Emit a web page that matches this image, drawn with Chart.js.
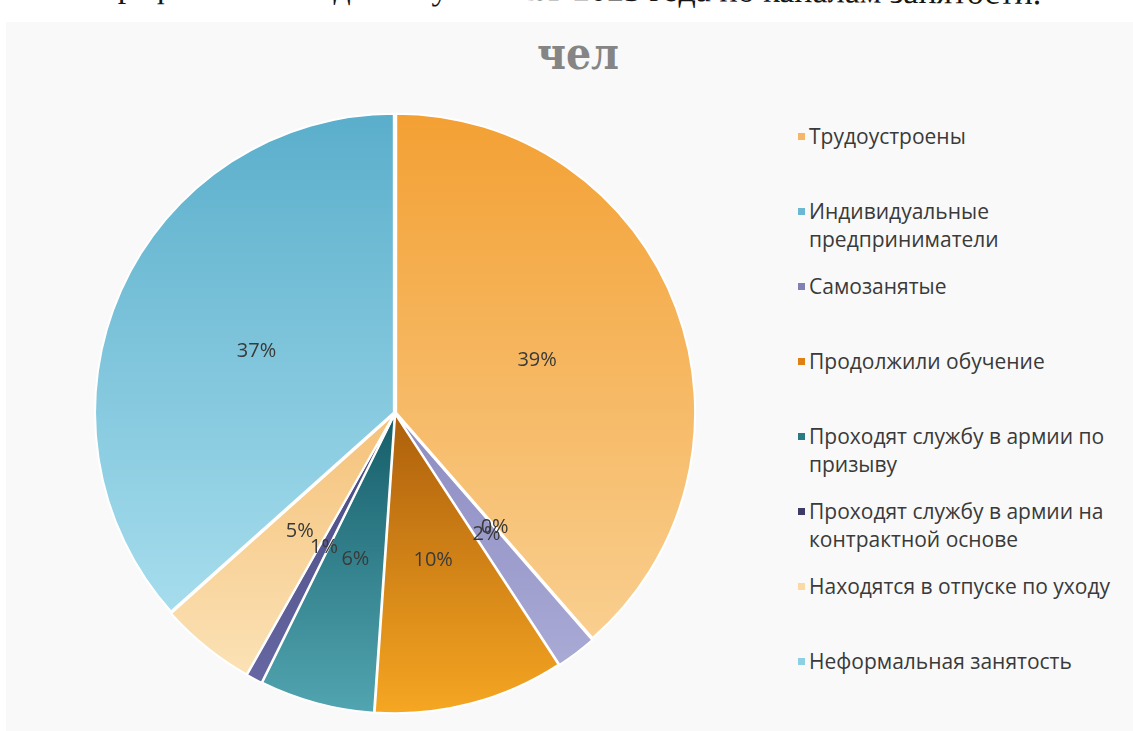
<!DOCTYPE html>
<html lang="ru">
<head>
<meta charset="utf-8">
<title>чел</title>
<script src="https://cdn.jsdelivr.net/npm/chart.js@4.4.1/dist/chart.umd.min.js"></script>
<style>
  html, body { margin: 0; padding: 0; background: #ffffff; }
  body { width: 1133px; height: 731px; position: relative; overflow: hidden; font-family: "Open Sans", sans-serif; }
  #caption { position: absolute; left: 0; top: 0; width: 1133px; height: 21px; overflow: hidden; }
  #caption span {
    position: absolute; right: 92px; top: -26px; line-height: 34px;
    font: 34px "Liberation Serif", serif; color: #151515; white-space: nowrap;
    transform: rotate(0.45deg); transform-origin: right center;
  }
  #frame { position: absolute; left: 6px; top: 22px; right: 0; bottom: 0; background: #f9f9f9; }
  #title {
    position: absolute; left: 478px; width: 200px; top: 28px; text-align: center;
    font: bold 44px "DejaVu Serif Condensed", "DejaVu Serif", serif; color: #858585;
  }
  #pie { position: absolute; left: 93px; top: 111px; width: 604px; height: 604px; }
  #legend { position: absolute; left: 796px; top: 100px; width: 337px; }
  #legend .item { height: 75px; box-sizing: border-box; padding-top: 22px; position: relative; }
  #legend .mark { position: absolute; left: 2px; top: 33px; width: 7px; height: 7px; }
  #legend .txt { margin-left: 13px; font-size: 21px; line-height: 28px; color: #3a3a3a; white-space: pre; }
</style>
</head>
<body>
<div id="caption"><span>Рисунок 2. Распределение в графическом виде выпускников 2023 года по каналам занятости.</span></div>
<div id="frame"></div>
<div id="title">чел</div>
<div id="pie"><canvas id="chart"></canvas></div>
<div id="legend"></div>
<script>
// categories (legend order = slice order, clockwise from 12 o'clock)
var categories = [
  'Трудоустроены',
  'Индивидуальные\nпредприниматели',
  'Самозанятые',
  'Продолжили обучение',
  'Проходят службу в армии по\nпризыву',
  'Проходят службу в армии на\nконтрактной основе',
  'Находятся в отпуске по уходу',
  'Неформальная занятость'
];
// shares, %
var shares = [38.6, 0, 2.2, 10.3, 6.2, 0.9, 5.2, 36.6];

// gradient fills: darker end at the top of each slice, lighter at the bottom
var darkColors  = ['#f3a033', '#5eafca', '#8c8cc2', '#ad5f0c', '#155d69', '#47477f', '#f5c27a', '#5aaecb'];
var lightColors = ['#f9cf90', '#a3dbea', '#aaaad6', '#f6a722', '#52a6b1', '#6767a3', '#fbe2b6', '#a6dded'];
var markColors  = ['#f6b665', '#6cb8d2', '#8080b5', '#e07f14', '#2a7a85', '#3c3c66', '#fcd9a0', '#8dd0e4'];

function sliceExtent(chart, i) {
  var area = chart.chartArea;
  var cy = (area.top + area.bottom) / 2;
  var r = Math.min(area.width, area.height) / 2;
  var data = chart.data.datasets[0].data;
  var total = 0, before = 0;
  for (var k = 0; k < data.length; k++) {
    total += data[k];
    if (k < i) before += data[k];
  }
  var a0 = before / total * Math.PI * 2;
  var a1 = (before + data[i]) / total * Math.PI * 2;
  var ys = [cy, cy - r * Math.cos(a0), cy - r * Math.cos(a1)];
  if (a0 < Math.PI && a1 > Math.PI) ys.push(cy + r);
  return [Math.min.apply(null, ys), Math.max.apply(null, ys)];
}

function sliceFill(context) {
  var chart = context.chart;
  var i = context.dataIndex;
  if (!chart.chartArea) return darkColors[i];
  var ext = sliceExtent(chart, i);
  if (ext[1] - ext[0] < 1) return darkColors[i];
  var g = chart.ctx.createLinearGradient(0, ext[0], 0, ext[1]);
  g.addColorStop(0, darkColors[i]);
  g.addColorStop(1, lightColors[i]);
  return g;
}

// percent labels in the middle of each slice
var percentLabels = {
  id: 'percentLabels',
  afterDatasetsDraw: function(chart) {
    var ctx = chart.ctx;
    var meta = chart.getDatasetMeta(0);
    var data = chart.data.datasets[0].data;
    var total = data.reduce(function(a, b) { return a + b; }, 0);
    ctx.save();
    ctx.font = '20px "Open Sans"';
    ctx.fillStyle = '#3a3a3a';
    ctx.textAlign = 'center';
    ctx.textBaseline = 'middle';
    meta.data.forEach(function(arc, i) {
      var p = arc.tooltipPosition();
      ctx.fillText(Math.round(data[i] / total * 100) + '%', p.x, p.y);
    });
    ctx.restore();
  }
};

var chart = new Chart(document.getElementById('chart'), {
  type: 'pie',
  data: {
    labels: categories,
    datasets: [{
      data: shares,
      backgroundColor: sliceFill,
      borderColor: '#ffffff',
      borderWidth: 2,
      offset: 5
    }]
  },
  options: {
    responsive: true,
    maintainAspectRatio: false,
    animation: false,
    layout: { padding: 0 },
    plugins: {
      legend: { display: false },
      tooltip: { enabled: false }
    }
  },
  plugins: [percentLabels]
});

// legend, Excel style: one slot per entry
var legend = document.getElementById('legend');
categories.forEach(function(name, i) {
  var item = document.createElement('div');
  item.className = 'item';
  var mark = document.createElement('div');
  mark.className = 'mark';
  mark.style.background = markColors[i];
  var txt = document.createElement('div');
  txt.className = 'txt';
  txt.textContent = name;
  item.appendChild(mark);
  item.appendChild(txt);
  legend.appendChild(item);
});
</script>
</body>
</html>
